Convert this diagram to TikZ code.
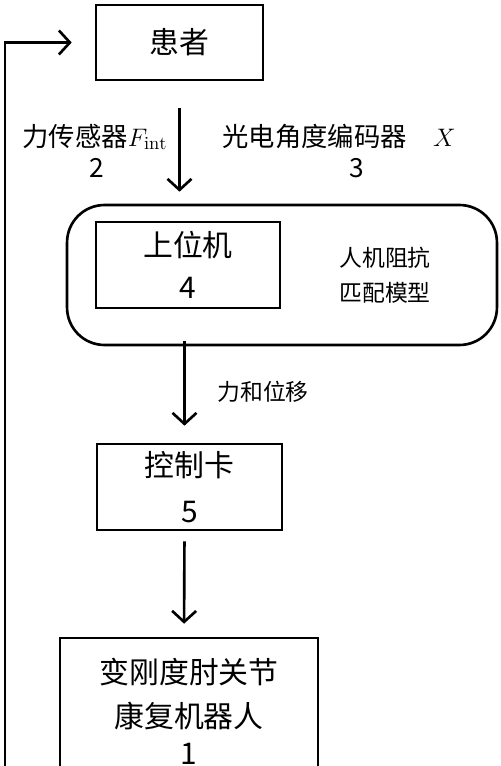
\documentclass[tikz,border=0pt]{standalone}
\usepackage{fontspec}
\setmainfont{Noto Sans CJK SC}
\setmathrm{Latin Modern Roman}
\usetikzlibrary{arrows.meta}

\tikzset{
  box/.style={draw, line width=1.5pt, align=center, inner sep=0pt},
  bigtext/.style={font=\fontsize{17}{21}\selectfont},
  labeltext/.style={font=\fontsize{15}{22}\selectfont, align=center},
  flow/.style={line width=1.5pt, -{Straight Barb[length=2.2mm,width=4.8mm]}}
}

\begin{document}
\begin{tikzpicture}[x=0.02cm, y=-0.02cm]

% Frame
\clip (0,0) rectangle (500,766);

% Blocks
\node[box, bigtext, minimum width=3.34cm, minimum height=1.5cm] (patient) at (179.5,42.5) {患者};
\node[box, rounded corners=0.75cm, minimum width=8.6cm, minimum height=2.8cm] (loop) at (282,275) {};
\node[box, font=\fontsize{17}{21}\selectfont, minimum width=3.68cm, minimum height=1.72cm] (host) at (188,265) {上位机\\[0.1cm]4};
\node[box, font=\fontsize{17}{23}\selectfont, minimum width=3.7cm, minimum height=1.72cm] (ctrl) at (189.5,487) {控制卡\\[0.1cm]5};
\node[box, font=\fontsize{17}{21}\selectfont, minimum width=5.16cm, minimum height=2.92cm] (robot) at (189,711) {变刚度肘关节\\[0.15cm]康复机器人\\1};

% Labels
\node[labeltext] (force) at (95,137) {力传感器$F_{\mathrm{int}}$};
\node[labeltext] (forcenum) at (97,168) {2};
\node[labeltext] (encoder) at (339,137) {光电角度编码器\quad$X$};
\node[labeltext] (encodernum) at (357,168) {3};
\node[font=\fontsize{13}{20}\selectfont, align=center] (model) at (385,275) {人机阻抗\\匹配模型};
\node[font=\fontsize{13}{20}\selectfont] (signal) at (263,392) {力和位移};

% Arrows
\draw[flow, shorten <=0.54cm, shorten >=0.24cm] (patient.south) -- (patient.south |- loop.north);
\draw[flow, shorten <=-0.1cm, shorten >=0.34cm] ([xshift=-0.1cm]loop.south -| ctrl.north) -- ([xshift=-0.1cm]ctrl.north);
\draw[flow, shorten <=0.2cm, shorten >=0.26cm] ([xshift=-0.1cm]ctrl.south) -- ([xshift=-0.1cm]robot.north);

% Feedback
\coordinate (fb) at (5,770);
\draw[flow, shorten >=0.46cm] (fb) |- (patient.west);

\end{tikzpicture}
\end{document}
